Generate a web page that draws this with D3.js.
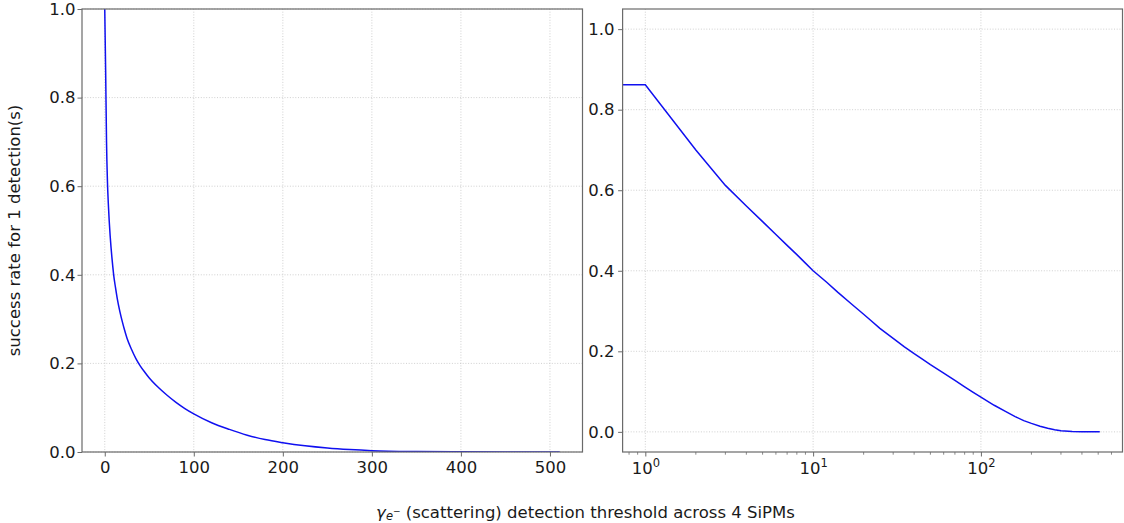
<!DOCTYPE html>
<html><head><meta charset="utf-8">
<script src="https://cdn.jsdelivr.net/npm/d3@7"></script>
<style>
body{margin:0;background:#fff;}
svg{display:block;font-family:"DejaVu Sans",sans-serif;}
</style></head><body>
<svg id="chart" width="1124" height="523"></svg>
<script>
// ---- data ----
const thresholds  = [0, 1, 2, 3, 4, 5, 6, 7, 8, 9, 10, 12, 14, 17, 20, 22, 25, 30, 35, 40, 45, 50, 60, 70, 80, 90, 100, 120, 140, 160, 180, 200, 225, 250, 275, 300, 350, 400, 450, 511];
const successRate = [1.0, 0.862, 0.700, 0.612, 0.561, 0.522, 0.490, 0.463, 0.440, 0.419, 0.400, 0.372, 0.347, 0.317, 0.292, 0.277, 0.257, 0.232, 0.211, 0.194, 0.180, 0.167, 0.146, 0.128, 0.112, 0.098, 0.086, 0.066, 0.051, 0.038, 0.028, 0.021, 0.014, 0.009, 0.0055, 0.003, 0.001, 0.0004, 0.0002, 0.0];
const linearTicksX = [0, 100, 200, 300, 400, 500];
const yTicks = [0, 0.2, 0.4, 0.6, 0.8, 1.0];
const logMajorTicks = [1, 10, 100];
const logMinorTicks = [0.8, 0.9, 2, 3, 4, 5, 6, 7, 8, 9, 20, 30, 40, 50, 60, 70, 80, 90, 200, 300, 400, 500, 600];
const yLabelText = "success rate for 1 detection(s)";
const xLabelRest = " (scattering) detection threshold across 4 SiPMs";

// ---- layout ----
const svg = d3.select("#chart");
const yTop = 9, yBottom = 452;
const L = {x0: 82, x1: 582.5}, R = {x0: 622.6, x1: 1122.5};
const spineColor = "#6a6a6a", gridColor = "#c4c4c4", textColor = "#1a1a1a";
const fs = 16.5;
const data = thresholds.map((t, i) => ({t, v: successRate[i]}));

// left scales (linear, 5% x margin, y fixed 0..1)
const xMin = d3.min(thresholds), xMax = d3.max(thresholds), xp = (xMax - xMin) * 0.05;
const xL = d3.scaleLinear().domain([xMin - xp, xMax + xp]).range([L.x0, L.x1]);
const yL = d3.scaleLinear().domain([0, 1]).range([yBottom, yTop]);

// right scales (log x, 5% margins in log space)
const pos = thresholds.filter(t => t > 0);
const lmin = Math.log10(d3.min(pos)), lmax = Math.log10(d3.max(pos)), lp = (lmax - lmin) * 0.05;
const xR = d3.scaleLog().domain([Math.pow(10, lmin - lp), Math.pow(10, lmax + lp)]).range([R.x0, R.x1]);
const vmin = d3.min(successRate), vmax = d3.max(successRate), vp = (vmax - vmin) * 0.05;
const yR = d3.scaleLinear().domain([vmin - vp, vmax + vp]).range([yBottom, yTop]);

const defs = svg.append("defs");
[["clipL", L], ["clipR", R]].forEach(([id, P]) => {
  defs.append("clipPath").attr("id", id).append("rect")
    .attr("x", P.x0).attr("y", yTop).attr("width", P.x1 - P.x0).attr("height", yBottom - yTop);
});

// grids
const gL = svg.append("g");
gL.selectAll("line.x").data(linearTicksX).join("line").attr("class","x")
  .attr("x1", d => xL(d)).attr("x2", d => xL(d)).attr("y1", yTop).attr("y2", yBottom);
gL.selectAll("line.y").data(yTicks).join("line").attr("class","y")
  .attr("x1", L.x0).attr("x2", L.x1).attr("y1", d => yL(d)).attr("y2", d => yL(d));
gL.selectAll("line").attr("stroke", gridColor).attr("stroke-width", 0.8).attr("stroke-dasharray", "1,1.7");

const gR = svg.append("g");
gR.selectAll("line.x").data(logMajorTicks).join("line").attr("class","x")
  .attr("x1", d => xR(d)).attr("x2", d => xR(d)).attr("y1", yTop).attr("y2", yBottom);
gR.selectAll("line.y").data(yTicks).join("line").attr("class","y")
  .attr("x1", R.x0).attr("x2", R.x1).attr("y1", d => yR(d)).attr("y2", d => yR(d));
gR.selectAll("line").attr("stroke", gridColor).attr("stroke-width", 0.8).attr("stroke-dasharray", "1,1.7");

// lines
const lineL = d3.line().curve(d3.curveMonotoneX).x(d => xL(d.t)).y(d => yL(d.v));
svg.append("path").datum(data).attr("clip-path", "url(#clipL)")
  .attr("d", lineL).attr("fill", "none").attr("stroke", "#1010f0").attr("stroke-width", 1.5);

// log panel: non-positive x is clipped to a tiny positive value (as matplotlib does)
const lineR = d3.line().x(d => xR(d.t > 0 ? d.t : 1e-300)).y(d => yR(d.v));
svg.append("path").datum(data).attr("clip-path", "url(#clipR)")
  .attr("d", lineR).attr("fill", "none").attr("stroke", "#1010f0").attr("stroke-width", 1.5);

// axes
function styleAxis(g) {
  g.select(".domain").remove();
  g.selectAll(".tick line").attr("stroke", spineColor).attr("stroke-width", 1);
  g.selectAll(".tick text").attr("fill", textColor).attr("font-size", fs).attr("font-family", "DejaVu Sans");
}
const fmt1 = d3.format(".1f");
svg.append("g").attr("transform", `translate(0,${yBottom})`)
  .call(d3.axisBottom(xL).tickValues(linearTicksX).tickFormat(d3.format("d")).tickSize(4.5).tickPadding(4.5))
  .call(styleAxis);
svg.append("g").attr("transform", `translate(${L.x0},0)`)
  .call(d3.axisLeft(yL).tickValues(yTicks).tickFormat(fmt1).tickSize(4.5).tickPadding(2))
  .call(styleAxis);
svg.append("g").attr("transform", `translate(${R.x0},0)`)
  .call(d3.axisLeft(yR).tickValues(yTicks).tickFormat(fmt1).tickSize(4.5).tickPadding(3.5))
  .call(styleAxis);

// log x axis: major ticks with 10^n labels, minor ticks
const axR = svg.append("g").attr("transform", `translate(0,${yBottom})`)
  .call(d3.axisBottom(xR).tickValues(logMajorTicks).tickFormat(() => "").tickSize(4.5))
  .call(styleAxis);
axR.selectAll(".tick text").each(function(d) {
  const t = d3.select(this).attr("dy", null).attr("y", 21.5);
  t.append("tspan").text("10");
  t.append("tspan").attr("font-size", 11.5).attr("dy", -7).text(Math.round(Math.log10(d)));
});
axR.selectAll(".minor").data(logMinorTicks.filter(d => xR(d) >= R.x0 && xR(d) <= R.x1)).join("line")
  .attr("class", "minor").attr("x1", d => xR(d)).attr("x2", d => xR(d))
  .attr("y1", 0).attr("y2", 2.7).attr("stroke", spineColor).attr("stroke-width", 0.8);

// spines
[L, R].forEach(P => {
  svg.append("rect").attr("x", P.x0).attr("y", yTop).attr("width", P.x1 - P.x0).attr("height", yBottom - yTop)
    .attr("fill", "none").attr("stroke", spineColor).attr("stroke-width", 1.2);
});

// axis labels
svg.append("text").attr("transform", `translate(19.5,${(yTop + yBottom) / 2}) rotate(-90)`)
  .attr("text-anchor", "middle").attr("font-size", fs).attr("fill", textColor).text(yLabelText);

const xl = svg.append("text").attr("x", 585.5).attr("y", 517.5).attr("text-anchor", "middle")
  .attr("font-size", fs).attr("fill", textColor);
xl.append("tspan").attr("font-style", "italic").text("γ");
xl.append("tspan").attr("font-style", "italic").attr("font-size", 11.5).attr("dy", 2.5).text("e");
xl.append("tspan").attr("font-size", 9).attr("dy", -6).text("−");
xl.append("tspan").attr("dy", 3.5).text(xLabelRest);
</script>
</body></html>
